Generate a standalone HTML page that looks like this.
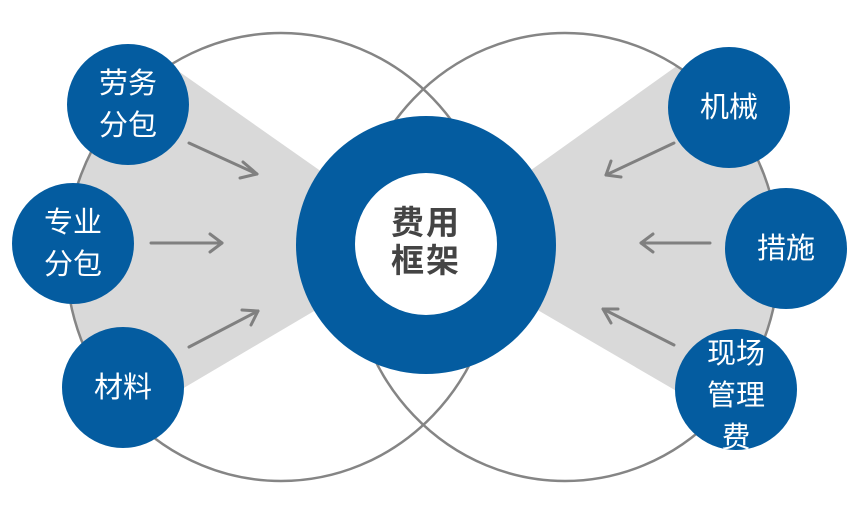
<!DOCTYPE html>
<html><head><meta charset="utf-8"><style>
html,body{margin:0;padding:0;background:#fff;}
body{width:860px;height:516px;overflow:hidden;position:relative;font-family:"Liberation Sans","Noto Sans CJK SC",sans-serif;}
svg{position:absolute;left:0;top:0;}
.c{position:absolute;width:122px;height:121px;border-radius:50%;background:#045ca0;color:#fff;font-size:29px;line-height:42px;text-align:center;display:flex;flex-direction:column;justify-content:center;align-items:center;overflow:hidden;}
.ctr{position:absolute;left:376px;top:204px;width:100px;text-align:center;font-size:33px;font-weight:bold;color:#444;line-height:38px;letter-spacing:2px;}
</style></head><body>
<svg width="860" height="516" viewBox="0 0 860 516">
<defs>
<clipPath id="cl"><ellipse cx="281" cy="257" rx="215" ry="224"/></clipPath>
<clipPath id="cr"><ellipse cx="565" cy="257" rx="214" ry="224"/></clipPath>
</defs>
<polygon points="426,245 60,-12 0,-12 0,520 60,461" fill="#d9d9d9" clip-path="url(#cl)"/>
<polygon points="426,245 800,-22 860,-22 860,520 800,463" fill="#d9d9d9" clip-path="url(#cr)"/>
<ellipse cx="281" cy="257" rx="215" ry="224" fill="none" stroke="#858585" stroke-width="2.5"/>
<ellipse cx="565" cy="257" rx="214" ry="224" fill="none" stroke="#858585" stroke-width="2.5"/>
<ellipse cx="426" cy="245" rx="130" ry="129" fill="#045ca0"/>
<ellipse cx="426" cy="244" rx="71" ry="71" fill="#fff"/>
<g stroke="#808080" stroke-width="3" fill="none" stroke-linecap="round" stroke-linejoin="round">
<line x1="189" y1="143" x2="257" y2="174"/><polyline points="243,162 257,174 240,178"/>
<line x1="151" y1="243" x2="222" y2="243"/><polyline points="210,234 222,243 210,252"/>
<line x1="189" y1="347" x2="258" y2="311"/><polyline points="242,310 258,311 251,325"/>
<line x1="674" y1="143" x2="606" y2="175"/><polyline points="611,161 606,175 621,177"/>
<line x1="710" y1="243" x2="641" y2="243"/><polyline points="653,234 641,243 653,252"/>
<line x1="674" y1="345" x2="603" y2="309"/><polyline points="618,309 603,309 611,323"/>
</g>
</svg>
<div class="c" style="left:67px;top:44px;"><div>劳务</div><div>分包</div></div>
<div class="c" style="left:12px;top:183px;"><div>专业</div><div>分包</div></div>
<div class="c" style="left:62px;top:327px;"><div>材料</div></div>
<div class="c" style="left:668px;top:47px;"><div>机械</div></div>
<div class="c" style="left:725px;top:188px;"><div>措施</div></div>
<div class="c" style="left:675px;top:329px;justify-content:flex-start;"><div style="margin-top:4px;line-height:42px;">现场<br>管理<br>费</div></div>
<div class="ctr">费用<br>框架</div>
</body></html>
